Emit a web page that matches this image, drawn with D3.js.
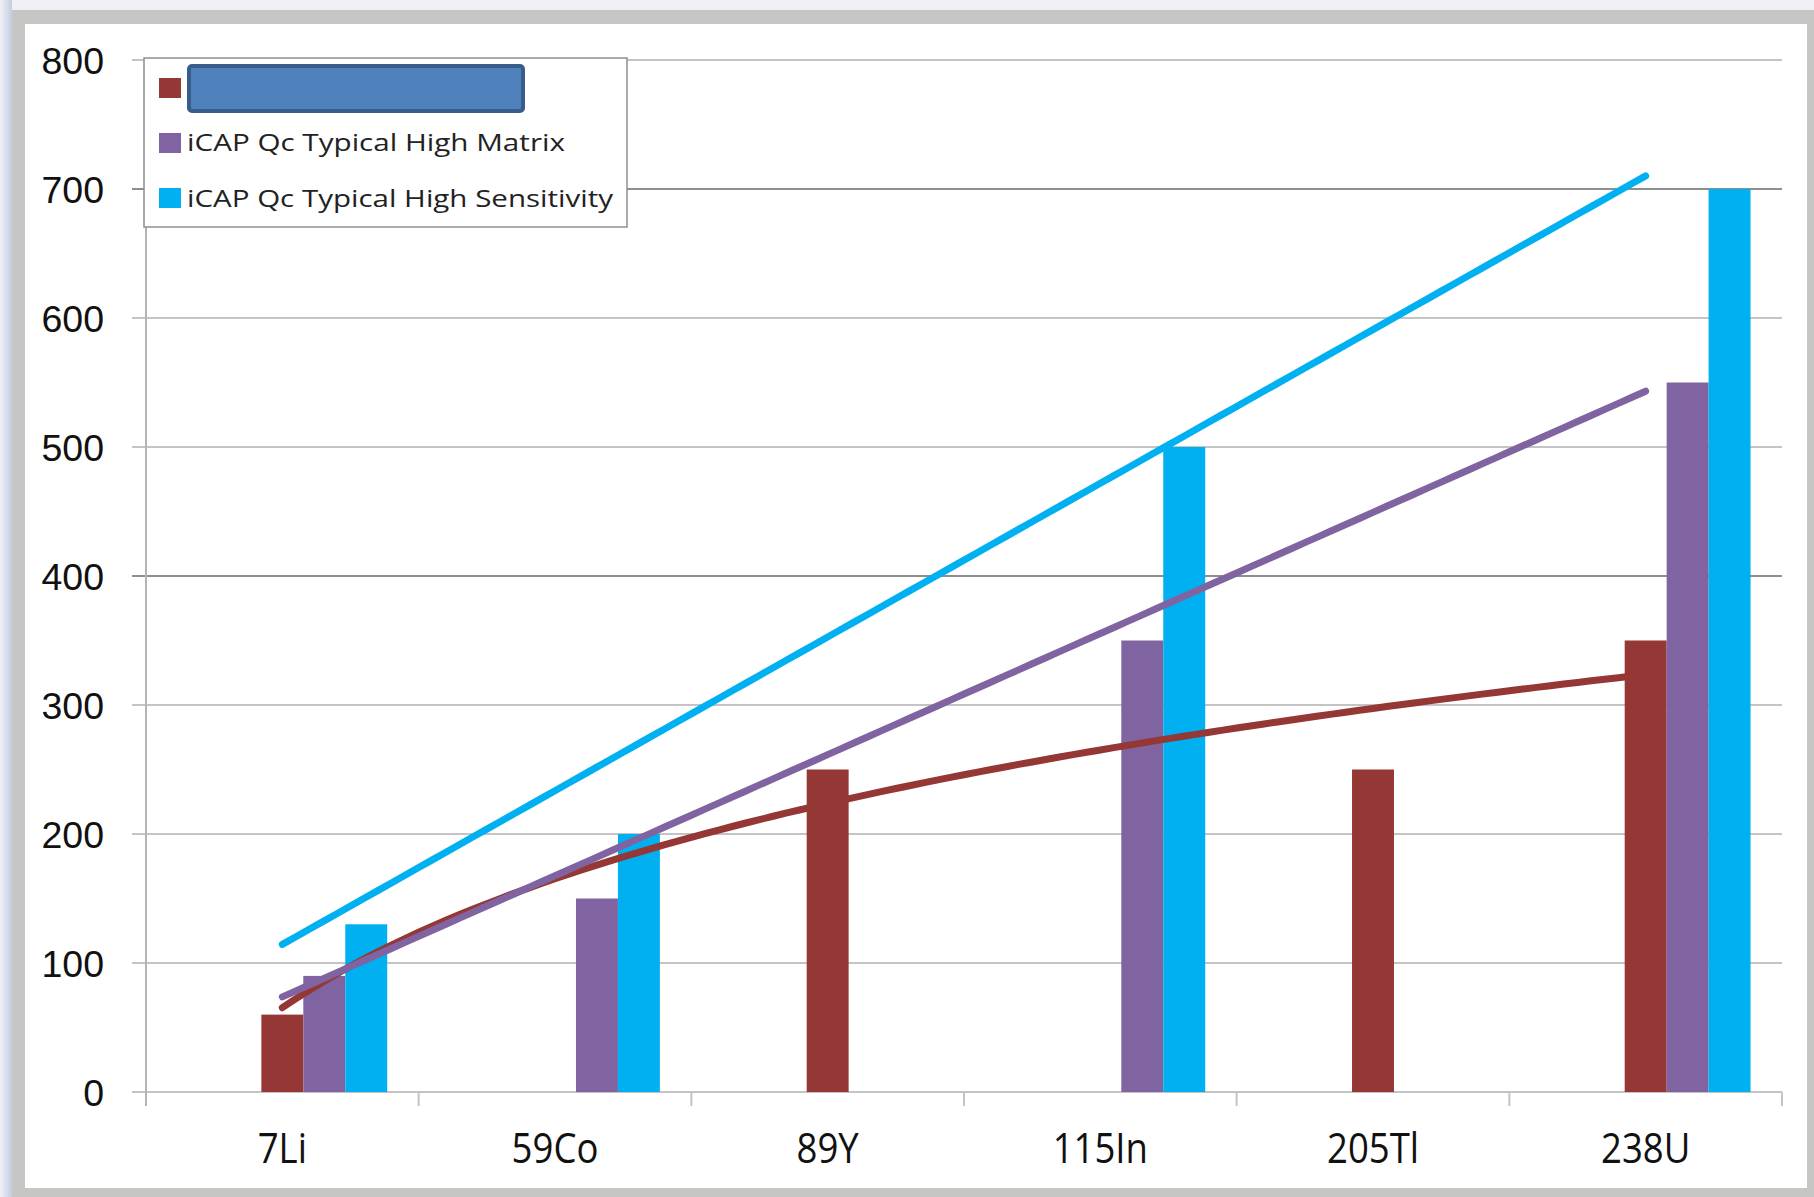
<!DOCTYPE html>
<html>
<head>
<meta charset="utf-8">
<script src="https://cdn.jsdelivr.net/npm/d3@7"></script>
<style>
  html, body { margin: 0; padding: 0; background: #fff; }
  svg { display: block; }
  text { font-family: "Liberation Sans", Arial, sans-serif; fill: #111; }
  .hum { font-family: "Open Sans", "Liberation Sans", sans-serif; }
</style>
</head>
<body>
<svg id="chart" width="1814" height="1197"></svg>
<script>
// ---- data ----
const categories = ["7Li", "59Co", "89Y", "115In", "205Tl", "238U"];
const seriesSlots = ["empty1", "empty2", "redacted", "highMatrix", "highSensitivity"];
const seriesLabels = ["", "iCAP Qc Typical High Matrix", "iCAP Qc Typical High Sensitivity"];
const redactedValues = [60, null, 250, null, 250, 350];
const highMatrixValues = [90, 150, null, 350, null, 550];
const highSensitivityValues = [130, 200, null, 500, null, 700];
const yTicks = [0, 100, 200, 300, 400, 500, 600, 700, 800];

// ---- layout ----
const W = 1814, H = 1197;
const plot = { left: 146, right: 1782, top: 60, bottom: 1092 };
const colors = { redacted: "#953735", highMatrix: "#8064a2", highSensitivity: "#00b0f0" };

const svg = d3.select("#chart");

// frame / background
const defs = svg.append("defs");
const lg = defs.append("linearGradient").attr("id", "edge").attr("x1", 0).attr("x2", 1).attr("y1", 0).attr("y2", 0);
lg.append("stop").attr("offset", "0%").attr("stop-color", "#eef1f6");
lg.append("stop").attr("offset", "100%").attr("stop-color", "#c3cde0");
svg.append("rect").attr("width", W).attr("height", H).attr("fill", "#eef0f4");
svg.append("rect").attr("x", 0).attr("y", 0).attr("width", 12).attr("height", H).attr("fill", "url(#edge)");
svg.append("rect").attr("x", 12).attr("y", 10).attr("width", W - 12).attr("height", H - 10).attr("fill", "#c6c7c5");
svg.append("rect").attr("x", 25).attr("y", 24).attr("width", 1782).attr("height", 1164).attr("fill", "#ffffff");

// scales
const x0 = d3.scaleBand().domain(categories).range([plot.left, plot.right]).padding(0);
const x1 = d3.scaleBand().domain(seriesSlots).range([0, x0.bandwidth()]).paddingInner(0).paddingOuter(0.75);
const y = d3.scaleLinear().domain([0, 800]).range([plot.bottom, plot.top]);

// gridlines
svg.append("g").selectAll("line").data(yTicks).join("line")
  .attr("x1", plot.left - 14).attr("x2", plot.right)
  .attr("y1", d => y(d)).attr("y2", d => y(d))
  .attr("stroke", d => (d === 400 || d === 700) ? "#8e8e8e" : "#c4c4c4")
  .attr("stroke-width", 2);

// y axis line
svg.append("line").attr("x1", plot.left).attr("x2", plot.left)
  .attr("y1", plot.top).attr("y2", plot.bottom + 14)
  .attr("stroke", "#b4b4b4").attr("stroke-width", 2);

// x axis tick marks
const xBounds = categories.map(c => x0(c)).concat([plot.right]);
svg.append("g").selectAll("line").data(xBounds.slice(1)).join("line")
  .attr("x1", d => d).attr("x2", d => d)
  .attr("y1", plot.bottom).attr("y2", plot.bottom + 14)
  .attr("stroke", "#c4c4c4").attr("stroke-width", 2);

// y labels
svg.append("g").selectAll("text").data(yTicks).join("text")
  .attr("x", 104).attr("y", d => y(d) + 14)
  .attr("text-anchor", "end")
  .style("font-size", "37.5px")
  .text(d => d);

// x labels
svg.append("g").selectAll("text").data(categories).join("text")
  .attr("class", "hum")
  .attr("transform", d => `translate(${x0(d) + x0.bandwidth() / 2},1163) scale(0.87,1)`)
  .attr("text-anchor", "middle")
  .style("font-size", "42px")
  .text(d => d);

// bars
const seriesData = [
  { key: "redacted", values: redactedValues },
  { key: "highMatrix", values: highMatrixValues },
  { key: "highSensitivity", values: highSensitivityValues }
];
const barG = svg.append("g");
seriesData.forEach(s => {
  const pts = s.values.map((v, i) => ({ cat: categories[i], v })).filter(p => p.v != null);
  barG.append("g").selectAll("rect").data(pts).join("rect")
    .attr("x", p => x0(p.cat) + x1(s.key))
    .attr("width", x1.bandwidth())
    .attr("y", p => y(p.v))
    .attr("height", p => y(0) - y(p.v))
    .attr("fill", colors[s.key]);
});

// trendlines (Excel style: x = 1..n, blanks skipped)
function fit(values, transform) {
  const pts = values.map((v, i) => [i + 1, v]).filter(p => p[1] != null);
  const xs = pts.map(p => transform(p[0])), ys = pts.map(p => p[1]);
  const mx = d3.mean(xs), my = d3.mean(ys);
  let sxy = 0, sxx = 0;
  xs.forEach((xv, i) => { sxy += (xv - mx) * (ys[i] - my); sxx += (xv - mx) * (xv - mx); });
  const b = sxy / sxx, a = my - b * mx;
  return t => a + b * transform(t);
}
const xCont = d3.scaleLinear().domain([1, categories.length])
  .range([x0(categories[0]) + x0.bandwidth() / 2, x0(categories[categories.length - 1]) + x0.bandwidth() / 2]);
const samples = d3.range(0, 101).map(k => 1 + (categories.length - 1) * k / 100);
const trends = [
  { key: "redacted", f: fit(redactedValues, Math.log) },
  { key: "highMatrix", f: fit(highMatrixValues, t => t) },
  { key: "highSensitivity", f: fit(highSensitivityValues, t => t) }
];
const lineGen = d3.line().x(d => xCont(d[0])).y(d => y(d[1])).curve(d3.curveLinear);
svg.append("g").selectAll("path").data(trends).join("path")
  .attr("d", tr => lineGen(samples.map(t => [t, tr.f(t)])))
  .attr("fill", "none")
  .attr("stroke", tr => colors[tr.key])
  .attr("stroke-width", 7)
  .attr("stroke-linecap", "round");

// legend
const leg = svg.append("g");
leg.append("rect").attr("x", 144).attr("y", 58).attr("width", 483).attr("height", 169)
  .attr("fill", "#ffffff").attr("stroke", "#8f8f8f").attr("stroke-width", 1.5);
const legendRows = [
  { key: "redacted", label: seriesLabels[0], sy: 78, base: 0, len: 0 },
  { key: "highMatrix", label: seriesLabels[1], sy: 133, base: 151, len: 378 },
  { key: "highSensitivity", label: seriesLabels[2], sy: 188, base: 207, len: 426 }
];
leg.selectAll("rect.sw").data(legendRows).join("rect").attr("class", "sw")
  .attr("x", 159).attr("y", d => d.sy).attr("width", 22).attr("height", 20)
  .attr("fill", d => colors[d.key]);
leg.selectAll("text.lab").data(legendRows.filter(d => d.label)).join("text").attr("class", "lab hum")
  .attr("x", 187).attr("y", d => d.base)
  .attr("textLength", d => d.len).attr("lengthAdjust", "spacingAndGlyphs")
  .style("font-size", "23px")
  .style("fill", "#222")
  .text(d => d.label);
// redaction box over first legend label
leg.append("rect").attr("x", 189).attr("y", 66).attr("width", 334).attr("height", 45)
  .attr("rx", 3).attr("fill", "#4f81bd").attr("stroke", "#385d8a").attr("stroke-width", 4);
</script>
</body>
</html>
